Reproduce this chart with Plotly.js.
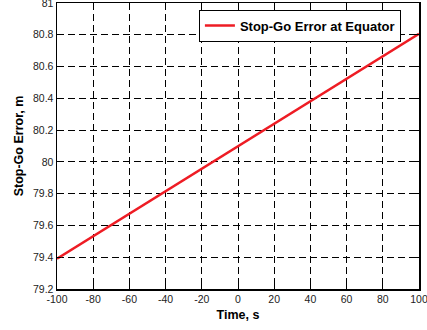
<!DOCTYPE html>
<html><head><meta charset="utf-8">
<script src="https://cdn.plot.ly/plotly-3.0.1.min.js"></script>
<style>body{margin:0;background:#fff}#c{width:427px;height:330px}</style>
</head><body><div id="c"></div>
<script>
const timeS = [-100, -40, 0, 40, 100];
const stopGoError = [79.39, 79.816, 80.10, 80.38, 80.806];
const seriesName = 'Stop-Go Error at Equator';
const xTicks = [-100, -80, -60, -40, -20, 0, 20, 40, 60, 80, 100];
const yTicks = [79.2, 79.4, 79.6, 79.8, 80, 80.2, 80.4, 80.6, 80.8, 81];

const font = 'Liberation Sans, Arial, sans-serif';
const axisCommon = {
  showgrid: true, gridcolor: '#000', gridwidth: 1, griddash: '7px,4px',
  zeroline: false, showline: true, linecolor: '#000', linewidth: 1.5, mirror: 'ticks',
  ticks: 'inside', ticklen: 4, tickcolor: '#000', ticklabeloverflow: 'allow',
  tickfont: {family: font, size: 10.5, color: '#222'}
};
Plotly.newPlot('c', [{
  x: timeS, y: stopGoError, mode: 'lines', name: seriesName,
  line: {color: '#ee1c24', width: 2.5}
}], {
  width: 427, height: 330,
  margin: {l: 57, r: 8, t: 3, b: 41},
  paper_bgcolor: '#fff', plot_bgcolor: '#fff',
  showlegend: true,
  legend: {x: 0.95, y: 0.977, xanchor: 'right', yanchor: 'top',
    bgcolor: '#fff', bordercolor: '#000', borderwidth: 1, itemwidth: 30,
    font: {family: font, size: 13, color: '#000', weight: 'bold'},
    tracegroupgap: 0},
  xaxis: Object.assign({}, axisCommon, {
    range: [-100, 100], tickvals: xTicks, ticktext: xTicks.map(String),
    title: {text: '<b>Time, s</b>', font: {family: font, size: 12.5, color: '#000'}, standoff: 6}
  }),
  yaxis: Object.assign({}, axisCommon, {
    range: [79.2, 81], tickvals: yTicks, ticktext: yTicks.map(String),
    title: {text: '<b>Stop-Go Error, m</b>', font: {family: font, size: 12.5, color: '#000'}, standoff: 6}
  })
}, {staticPlot: true});
</script></body></html>
